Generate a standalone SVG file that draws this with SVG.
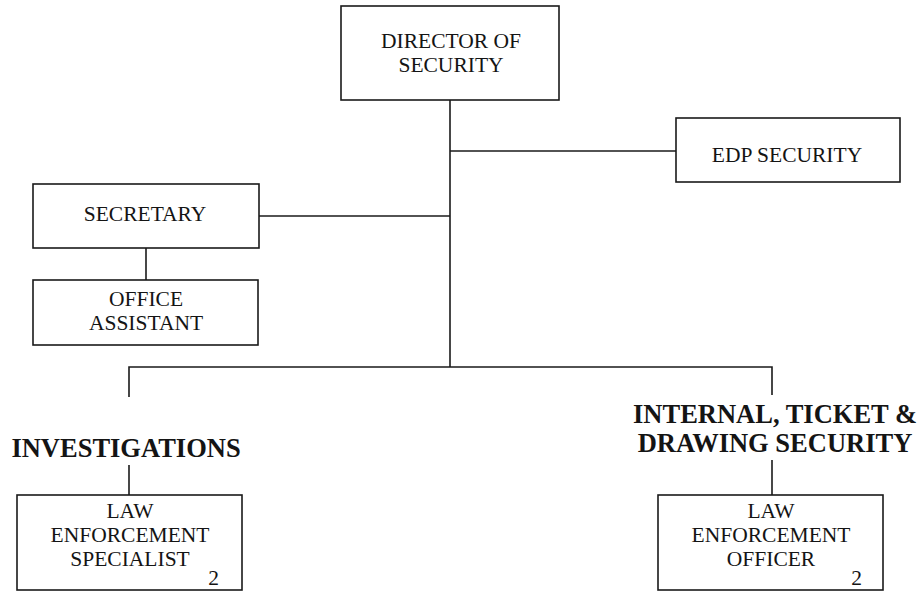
<svg xmlns="http://www.w3.org/2000/svg" width="924" height="594" viewBox="0 0 924 594">
  <style>
    .box { fill: #ffffff; stroke: #1a1a1a; stroke-width: 1.6; }
    .wire { fill: none; stroke: #1a1a1a; stroke-width: 1.6; }
    .lbl { font-family: "Liberation Serif", "Times New Roman", serif; font-size: 21.5px; fill: #141414; text-anchor: middle; }
    .num { font-family: "Liberation Serif", "Times New Roman", serif; font-size: 21.5px; fill: #141414; text-anchor: end; }
    .head { font-family: "Liberation Serif", "Times New Roman", serif; font-size: 26.5px; font-weight: bold; fill: #141414; text-anchor: middle; }
  </style>
  <rect width="924" height="594" fill="#ffffff"/>

  <!-- connectors -->
  <g id="connectors">
    <path class="wire" d="M450 100 V367"/>
    <path class="wire" d="M450 151 H676"/>
    <path class="wire" d="M259 216 H450"/>
    <path class="wire" d="M146 248 V280"/>
    <path class="wire" d="M129 397 V367 H772 V395"/>
    <path class="wire" d="M129 465 V495"/>
    <path class="wire" d="M772 460 V495"/>
  </g>

  <g id="director">
    <rect class="box" x="341" y="6" width="218" height="94"/>
    <text class="lbl" x="451" y="48">DIRECTOR OF</text>
    <text class="lbl" x="451" y="72">SECURITY</text>
  </g>

  <g id="edp-security">
    <rect class="box" x="676" y="118" width="224" height="64"/>
    <text class="lbl" x="787" y="162">EDP SECURITY</text>
  </g>

  <g id="secretary">
    <rect class="box" x="33" y="184" width="226" height="64"/>
    <text class="lbl" x="145" y="221">SECRETARY</text>
  </g>

  <g id="office-assistant">
    <rect class="box" x="33" y="280" width="225" height="65"/>
    <text class="lbl" x="146" y="306">OFFICE</text>
    <text class="lbl" x="146" y="330">ASSISTANT</text>
  </g>

  <g id="investigations">
    <text class="head" x="126" y="457">INVESTIGATIONS</text>
  </g>

  <g id="internal-ticket-drawing">
    <text class="head" x="775" y="423">INTERNAL, TICKET &amp;</text>
    <text class="head" x="775" y="452">DRAWING SECURITY</text>
  </g>

  <g id="law-enforcement-specialist">
    <rect class="box" x="17" y="495" width="225" height="95"/>
    <text class="lbl" x="130" y="518">LAW</text>
    <text class="lbl" x="130" y="542">ENFORCEMENT</text>
    <text class="lbl" x="130" y="566">SPECIALIST</text>
    <text class="num" x="219" y="585">2</text>
  </g>

  <g id="law-enforcement-officer">
    <rect class="box" x="658" y="495" width="225" height="95"/>
    <text class="lbl" x="771" y="518">LAW</text>
    <text class="lbl" x="771" y="542">ENFORCEMENT</text>
    <text class="lbl" x="771" y="566">OFFICER</text>
    <text class="num" x="862" y="585">2</text>
  </g>
</svg>
